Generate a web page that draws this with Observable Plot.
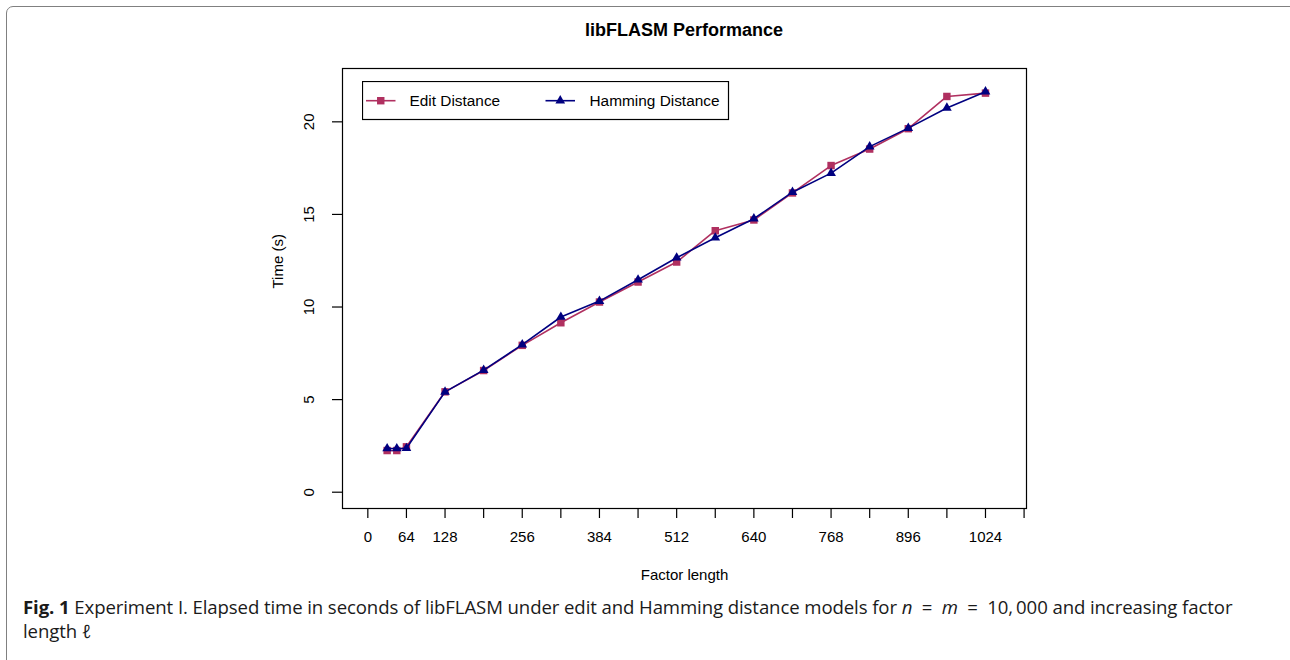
<!DOCTYPE html>
<html>
<head>
<meta charset="utf-8">
<script src="https://cdn.jsdelivr.net/npm/d3@7"></script>
<script src="https://cdn.jsdelivr.net/npm/@observablehq/plot@0.6"></script>
<style>
html,body{margin:0;padding:0;background:#fff;width:1290px;height:660px;overflow:hidden;}
#wrap{position:relative;width:1290px;height:660px;overflow:hidden;}
#border{position:absolute;left:6px;top:6px;width:1310px;height:720px;border:1.5px solid #808080;border-radius:7px;box-sizing:border-box;}
#title{position:absolute;left:342px;width:684px;top:20px;text-align:center;font:bold 18px "Liberation Sans",Arial,sans-serif;color:#000;}
#chart{position:absolute;left:0;top:0;}
#legend{position:absolute;left:362px;top:81px;}
#caption{position:absolute;left:23px;top:595px;width:1260px;font:18.6px "Open Sans",sans-serif;line-height:24px;color:#1a1a1a;white-space:nowrap;letter-spacing:-0.1px;}
#caption b{font-weight:700;}
</style>
</head>
<body>
<div id="wrap">
  <div id="border"></div>
  <div id="chart"></div>
  <div id="title"></div>
  <div id="legend"></div>
  <div id="caption"><b>Fig. 1</b> Experiment I. Elapsed time in seconds of libFLASM under edit and Hamming distance models for <i>n</i>&nbsp;&nbsp;=&nbsp;&nbsp;<i>m</i>&nbsp;&nbsp;=&nbsp;&nbsp;10,&thinsp;000 and increasing factor<br>length <i>ℓ</i></div>
</div>
<script>
// ---- data ----
const chartTitle = "libFLASM Performance";
const xLabel = "Factor length";
const yLabel = "Time (s)";
const seriesNames = ["Edit Distance", "Hamming Distance"];
const seriesColors = ["#B03060", "#000080"];
const factorLengths = [32, 48, 64, 128, 192, 256, 320, 384, 448, 512, 576, 640, 704, 768, 832, 896, 960, 1024];
const editTime    = [2.25, 2.25, 2.45, 5.42, 6.57, 7.93, 9.15, 10.27, 11.35, 12.43, 14.12, 14.70, 16.16, 17.64, 18.53, 19.63, 21.37, 21.55];
const hammingTime = [2.36, 2.36, 2.37, 5.42, 6.59, 7.97, 9.46, 10.32, 11.47, 12.66, 13.74, 14.77, 16.20, 17.23, 18.66, 19.66, 20.75, 21.63];
const xTicks = [0, 64, 128, 192, 256, 320, 384, 448, 512, 576, 640, 704, 768, 832, 896, 960, 1024, 1088];
const xTickLabels = [0, 64, 128, 256, 384, 512, 640, 768, 896, 1024];
const yTicks = [0, 5, 10, 15, 20];

// ---- build ----
const edit = factorLengths.map((x, i) => ({x, t: editTime[i]}));
const ham = factorLengths.map((x, i) => ({x, t: hammingTime[i]}));

document.getElementById("title").textContent = chartTitle;

const chart = Plot.plot({
  width: 1290,
  height: 590,
  marginLeft: 342,
  marginRight: 264,
  marginTop: 68,
  marginBottom: 82,
  x: {domain: [-42, 1092]},
  y: {domain: [-0.88, 22.88]},
  style: {fontFamily: "'Liberation Sans', Arial, sans-serif", fontSize: "15px", background: "transparent", color: "#000", overflow: "visible"},
  marks: [
    Plot.frame({stroke: "#000", strokeWidth: 1.2}),
    Plot.axisX({ticks: xTicks, tickSize: 10, tickFormat: () => "", label: null, stroke: "#000", strokeWidth: 1.2}),
    Plot.axisY({ticks: yTicks, tickSize: 10, tickFormat: () => "", label: null, stroke: "#000", strokeWidth: 1.2}),
    Plot.text(xTickLabels, {x: d => d, text: d => String(d), frameAnchor: "bottom", dy: 29, lineAnchor: "middle", fontSize: 15, fill: "#000"}),
    Plot.text(yTicks, {y: d => d, text: d => String(d), frameAnchor: "left", dx: -33, rotate: -90, lineAnchor: "middle", textAnchor: "middle", fontSize: 15, fill: "#000"}),
    Plot.text([xLabel], {text: d => d, frameAnchor: "bottom", dy: 66.5, lineAnchor: "middle", fontSize: 15, fill: "#000"}),
    Plot.text([yLabel], {text: d => d, frameAnchor: "left", dx: -64, rotate: -90, lineAnchor: "middle", fontSize: 15, fill: "#000"}),
    Plot.line(edit, {x: "x", y: "t", stroke: seriesColors[0], strokeWidth: 1.6}),
    Plot.dot(edit, {x: "x", y: "t", symbol: "square", r: 4.2, fill: seriesColors[0], stroke: "none"}),
    Plot.line(ham, {x: "x", y: "t", stroke: seriesColors[1], strokeWidth: 1.6}),
    Plot.dot(ham, {x: "x", y: "t", symbol: "triangle", r: 3.6, fill: seriesColors[1], stroke: "none"})
  ]
});
document.getElementById("chart").appendChild(chart);

// ---- legend ----
const lg = d3.select("#legend").append("svg").attr("width", 368).attr("height", 40)
  .style("font-family", "'Liberation Sans', Arial, sans-serif").style("font-size", "15.4px");
lg.append("rect").attr("x", 0.5).attr("y", 0.5).attr("width", 366).attr("height", 38)
  .attr("fill", "#fff").attr("stroke", "#000").attr("stroke-width", 1.2);
const items = [
  {name: seriesNames[0], color: seriesColors[0], sym: d3.symbolSquare, r: 4.2, x0: 4, text: 47.5},
  {name: seriesNames[1], color: seriesColors[1], sym: d3.symbolTriangle, r: 3.6, x0: 183.5, text: 227.5}
];
items.forEach(it => {
  const g = lg.append("g");
  g.append("line").attr("x1", it.x0).attr("x2", it.x0 + 29.5).attr("y1", 19.7).attr("y2", 19.7)
    .attr("stroke", it.color).attr("stroke-width", 1.6);
  g.append("path").attr("d", d3.symbol(it.sym, it.r * it.r * Math.PI)())
    .attr("transform", `translate(${it.x0 + 14.75},19.7)`).attr("fill", it.color);
  g.append("text").attr("x", it.text).attr("y", 19.7).attr("dy", "0.35em").text(it.name).attr("fill", "#000");
});
</script>
</body>
</html>
